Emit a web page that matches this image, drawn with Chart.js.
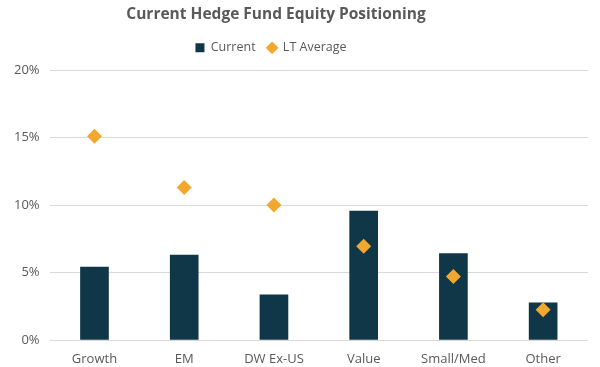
<!DOCTYPE html>
<html>
<head>
<meta charset="utf-8">
<script src="https://cdn.jsdelivr.net/npm/chart.js@4"></script>
<style>
  html, body { margin: 0; padding: 0; background: #fff; }
  #wrap { width: 600px; height: 367px; }
</style>
</head>
<body>
<div id="wrap"><canvas id="hfChart" width="600" height="367"></canvas></div>
<script>
// categories and values
const categories = ['Growth', 'EM', 'DW Ex-US', 'Value', 'Small/Med', 'Other'];
const currentPct = [5.4, 6.3, 3.35, 9.55, 6.4, 2.75];
const ltAveragePct = [15.1, 11.3, 10.0, 6.95, 4.7, 2.25];
const yTicks = [0, 5, 10, 15, 20];

// nudge title + legend a bit left, like the original, and leave a gap under the legend
const headerTweaks = {
    id: 'headerTweaks',
    beforeLayout(chart) {
        const l = chart.legend;
        if (l && !l._tweaked) {
            const origFit = l.fit;
            l.fit = function() {
                origFit.call(this);
                this.height += 6;
            };
            l._tweaked = true;
        }
    },
    afterLayout(chart) {
        chart.titleBlock.left -= 40;
        const l = chart.legend;
        l.left -= 50;
        l.adjustHitBoxes();
    }
};

const ctx = document.getElementById('hfChart').getContext('2d');
new Chart(ctx, {
    data: {
        labels: categories,
        datasets: [
            {
                type: 'bar',
                label: 'Current',
                data: currentPct,
                backgroundColor: '#0f3747',
                pointStyle: 'rect',
                barThickness: 28,
                order: 2
            },
            {
                type: 'line',
                label: 'LT Average',
                data: ltAveragePct,
                showLine: false,
                pointStyle: 'rectRot',
                pointRadius: 7.5,
                pointHoverRadius: 7.5,
                backgroundColor: '#f2a72e',
                borderColor: '#f2a72e',
                borderWidth: 0,
                order: 1
            }
        ]
    },
    options: {
        responsive: false,
        animation: false,
        layout: { padding: { left: 4, right: 12, top: 2, bottom: 1 } },
        plugins: {
            title: {
                display: true,
                text: 'Current Hedge Fund Equity Positioning',
                color: '#595959',
                font: { family: 'Open Sans', size: 15.5, weight: 'bold' },
                padding: { top: 3, bottom: 6 }
            },
            legend: {
                display: true,
                labels: {
                    usePointStyle: true,
                    boxWidth: 9,
                    boxHeight: 9,
                    color: '#595959',
                    font: { family: 'Open Sans', size: 12.5 },
                    padding: 12,
                    sort: (a, b) => a.datasetIndex - b.datasetIndex
                }
            },
            tooltip: { enabled: false }
        },
        scales: {
            x: {
                grid: { display: false, drawTicks: false },
                border: { display: false },
                afterFit(axis) { axis.height = 26; },
                ticks: {
                    color: '#595959',
                    font: { family: 'Open Sans', size: 13 },
                    padding: 11
                }
            },
            y: {
                min: 0,
                max: 20,
                afterBuildTicks(axis) {
                    axis.ticks = yTicks.map(v => ({ value: v }));
                },
                grid: { color: '#d9d9d9', lineWidth: 1, drawTicks: false },
                border: { display: false },
                ticks: {
                    color: '#595959',
                    font: { family: 'Open Sans', size: 13 },
                    padding: 10,
                    callback: v => v + '%'
                }
            }
        }
    },
    plugins: [headerTweaks]
});
</script>
</body>
</html>
